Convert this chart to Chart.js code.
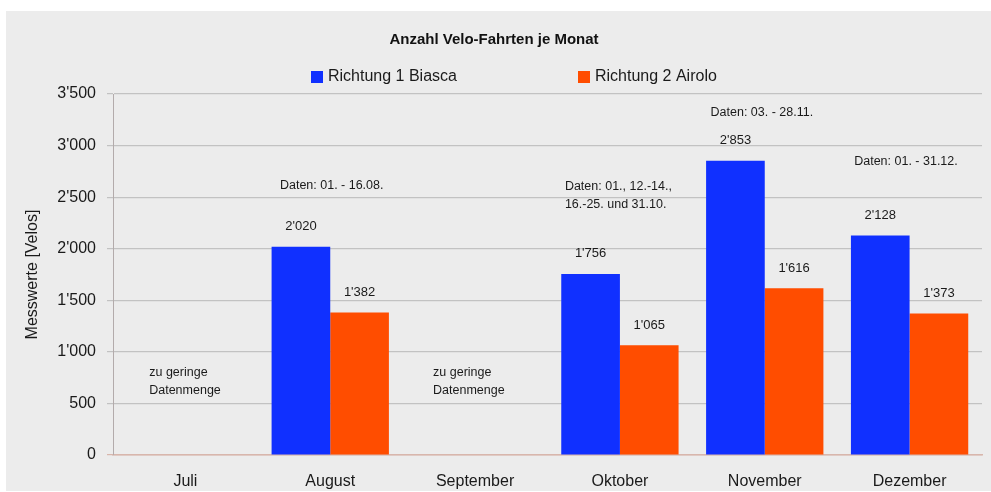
<!DOCTYPE html>
<html>
<head>
<meta charset="utf-8">
<script src="https://cdn.jsdelivr.net/npm/chart.js@4/dist/chart.umd.min.js"></script>
<style>
  html, body { margin: 0; padding: 0; background: #fff; }
  #wrap { width: 991px; height: 492px; }
</style>
</head>
<body>
<div id="wrap"><canvas id="chart" width="991" height="492"></canvas></div>
<script>
// data
const months = ['Juli', 'August', 'September', 'Oktober', 'November', 'Dezember'];
const biasca = [null, 2020, null, 1756, 2853, 2128];
const airolo = [null, 1382, null, 1065, 1616, 1373];
const seriesNames = ['Richtung 1 Biasca', 'Richtung 2 Airolo'];
const yTicks = [0, 500, 1000, 1500, 2000, 2500, 3000, 3500];

// notes: month index, y value of first line, text lines
const noteMonth = [0, 2, 1, 3, 4, 5];
const noteValue = [795, 795, 2608, 2598, 3325, 2841];
const noteText = [
    ['zu geringe', 'Datenmenge'],
    ['zu geringe', 'Datenmenge'],
    ['Daten: 01. - 16.08.'],
    ['Daten: 01., 12.-14.,', '16.-25. und 31.10.'],
    ['Daten: 03. - 28.11.'],
    ['Daten: 01. - 31.12.']
];
// horizontal shift (share of a category) and alignment of each note
const noteShift = [-0.25, -0.29, 0.01, -0.38, -0.02, -0.025];
const noteAlign = ['left', 'left', 'center', 'left', 'center', 'center'];

const FONT = '"Liberation Sans", Arial, sans-serif';
const BLUE = '#1030ff';
const ORANGE = '#ff4d00';

function fmt(n) {
    if (n >= 1000) return Math.floor(n / 1000) + "'" + String(n % 1000).padStart(3, '0');
    return String(n);
}

const panelPlugin = {
    id: 'panel',
    beforeDraw(chart) {
        const c = chart.ctx;
        c.save();
        c.fillStyle = '#ffffff';
        c.fillRect(0, 0, chart.width, chart.height);
        c.fillStyle = '#ececec';
        c.fillRect(6, 11, chart.width - 6, chart.height - 12);
        c.restore();
    }
};

const legendPlugin = {
    id: 'myLegend',
    afterDraw(chart) {
        const c = chart.ctx;
        const xs = [311, 578];
        c.save();
        c.font = '16px ' + FONT;
        c.textBaseline = 'middle';
        c.textAlign = 'left';
        chart.data.datasets.forEach((ds, i) => {
            c.fillStyle = ds.backgroundColor;
            c.fillRect(xs[i], 71, 12, 12);
            c.fillStyle = '#1a1a1a';
            c.fillText(ds.label, xs[i] + 17, 77);
        });
        c.restore();
    }
};

const notesPlugin = {
    id: 'notes',
    afterDatasetsDraw(chart) {
        const c = chart.ctx;
        const x = chart.scales.x, y = chart.scales.y;
        const catW = (x.right - x.left) / months.length;
        c.save();
        c.fillStyle = '#1a1a1a';
        c.textBaseline = 'middle';
        // value labels over bars
        c.font = '13px ' + FONT;
        c.textAlign = 'center';
        chart.data.datasets.forEach((ds, di) => {
            chart.getDatasetMeta(di).data.forEach((bar, i) => {
                const v = ds.data[i];
                if (v == null) return;
                c.fillText(fmt(v), bar.x, bar.y - 20);
            });
        });
        // text notes
        c.font = '12.5px ' + FONT;
        noteText.forEach((lines, k) => {
            const px = x.getPixelForValue(noteMonth[k]) + noteShift[k] * catW;
            const py = y.getPixelForValue(noteValue[k]);
            c.textAlign = noteAlign[k];
            lines.forEach((t, li) => c.fillText(t, px, py + li * 18));
        });
        c.restore();
    }
};

new Chart(document.getElementById('chart'), {
    type: 'bar',
    data: {
        labels: months,
        datasets: [
            { label: seriesNames[0], data: biasca, backgroundColor: BLUE },
            { label: seriesNames[1], data: airolo, backgroundColor: ORANGE }
        ]
    },
    options: {
        responsive: false,
        animation: false,
        layout: { padding: { top: 11, left: 6, right: 9, bottom: 0 } },
        datasets: { bar: { categoryPercentage: 0.81, barPercentage: 1 } },
        plugins: {
            legend: { display: false },
            tooltip: { enabled: false },
            title: {
                display: true,
                text: 'Anzahl Velo-Fahrten je Monat',
                color: '#111',
                font: { family: FONT, size: 15, weight: 'bold' },
                padding: { top: 20, bottom: 45 }
            }
        },
        scales: {
            x: {
                grid: { display: false },
                border: { display: true, color: '#d8b6ac', width: 1.5 },
                ticks: { color: '#1a1a1a', font: { family: FONT, size: 16 }, padding: 9, maxRotation: 0 },
                afterFit(s) { s.height = 37; }
            },
            y: {
                min: 0,
                max: 3500,
                afterBuildTicks(s) { s.ticks = yTicks.map(v => ({ value: v })); },
                grid: {
                    color: ctx => (ctx.tick && ctx.tick.value === 0 ? '#d8b6ac' : '#c2c2c2'),
                    lineWidth: 1.2,
                    tickLength: 6
                },
                border: { display: true, color: '#b3abab', width: 1 },
                ticks: { color: '#1a1a1a', font: { family: FONT, size: 16 }, padding: 11, callback: v => fmt(v) },
                title: {
                    display: true,
                    text: 'Messwerte [Velos]',
                    color: '#1a1a1a',
                    font: { family: FONT, size: 16 },
                    padding: { top: 17, bottom: 0 }
                },
                afterFit(s) { s.width = 107; }
            }
        }
    },
    plugins: [panelPlugin, legendPlugin, notesPlugin]
});
</script>
</body>
</html>
